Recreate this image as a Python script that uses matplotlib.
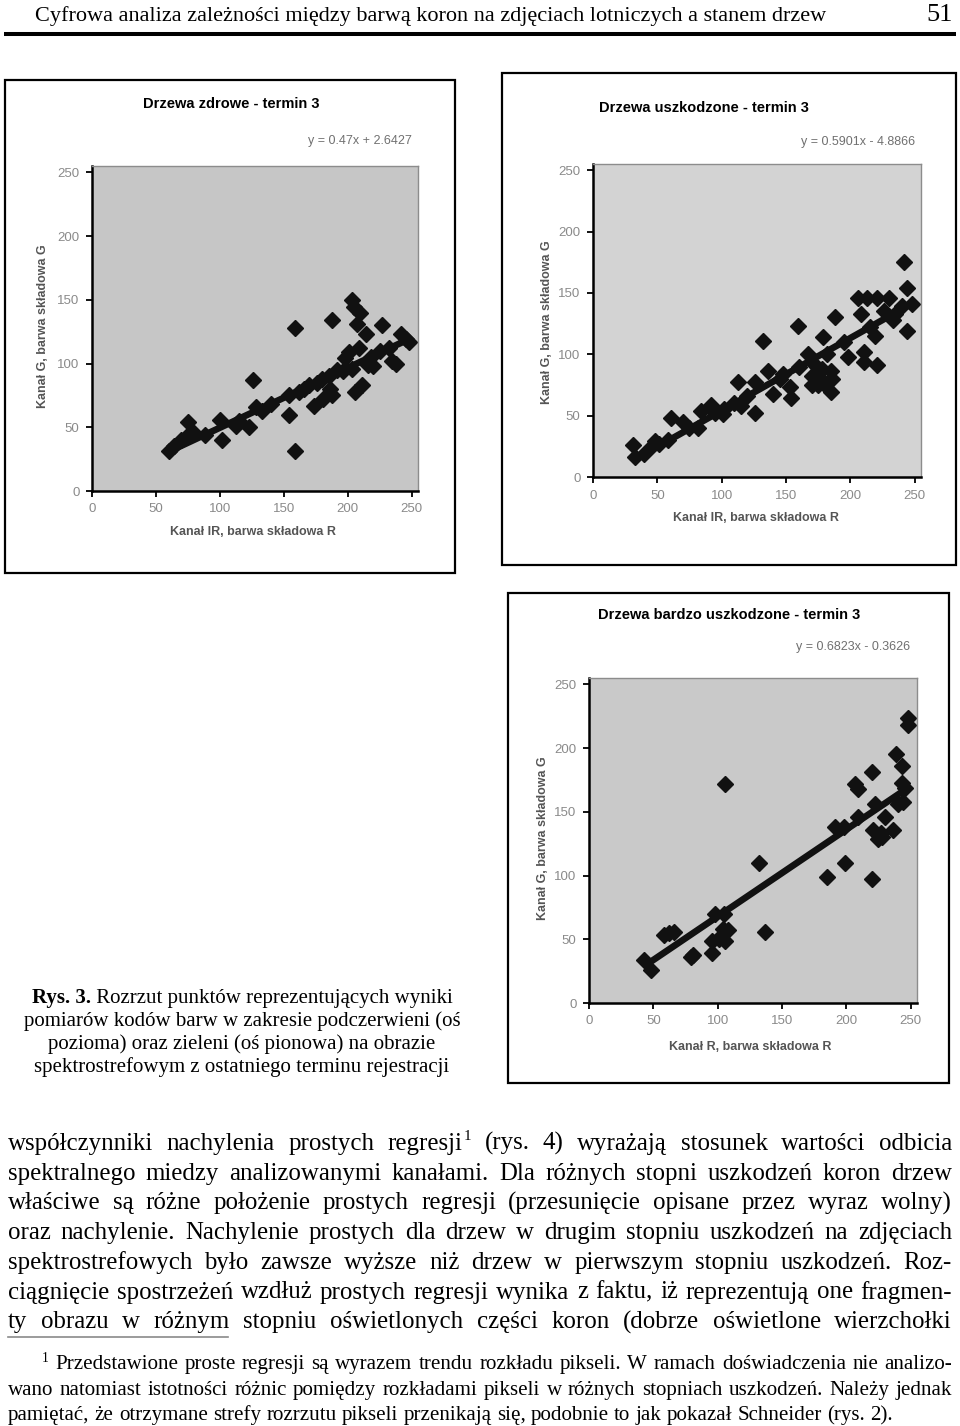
import matplotlib
matplotlib.use('Agg')
import matplotlib.pyplot as plt
from matplotlib.patches import Rectangle
import numpy as np

# --- data ---------------------------------------------------------------
healthy_x = [60, 64, 70, 74, 75, 79, 88, 100, 102, 113, 115, 123, 126, 128, 133,
             140, 154, 154, 159, 159, 162, 166, 170, 174, 176, 180, 181, 185, 186,
             188, 188, 192, 196, 198, 201, 203, 203, 205, 206, 207, 209, 210, 211,
             214, 216, 218, 220, 225, 227, 232, 235, 238, 242, 246, 248]
healthy_y = [31, 35, 40, 43, 54, 46, 44, 56, 40, 51, 55, 50, 87, 66, 63,
             68, 60, 75, 128, 31, 78, 80, 83, 67, 85, 88, 72, 90, 80,
             75, 134, 95, 94, 104, 109, 96, 150, 144, 78, 131, 112, 140, 83,
             123, 99, 105, 98, 110, 130, 112, 102, 100, 123, 119, 117]

damaged_x = [31, 33, 40, 46, 48, 51, 58, 61, 70, 75, 82, 84, 92, 95, 101, 102,
             110, 113, 115, 120, 126, 126, 132, 136, 140, 145, 148, 153, 154, 159,
             160, 167, 170, 170, 172, 175, 175, 178, 179, 180, 182, 185, 185, 186,
             188, 195, 198, 206, 208, 211, 211, 213, 215, 219, 221, 221, 226, 230,
             233, 235, 240, 242, 244, 244, 248]
damaged_y = [26, 16, 19, 25, 29, 27, 30, 48, 45, 40, 40, 54, 59, 52, 51, 55,
             60, 77, 58, 66, 77, 52, 111, 86, 68, 80, 84, 73, 64, 123,
             90, 100, 82, 75, 92, 75, 82, 88, 114, 75, 100, 86, 69, 80,
             130, 110, 98, 146, 133, 102, 94, 146, 122, 115, 91, 146, 135, 146,
             128, 133, 139, 175, 154, 119, 141]

severe_x = [43, 48, 58, 62, 66, 79, 81, 96, 96, 98, 101, 102, 104, 105, 106, 106,
            108, 132, 137, 185, 191, 198, 199, 207, 209, 209, 220, 220, 221, 222,
            225, 227, 228, 230, 236, 239, 240, 243, 243, 244, 246, 248, 248]
severe_y = [34, 26, 53, 55, 56, 36, 38, 39, 49, 70, 50, 52, 58, 70, 49, 172,
            57, 110, 56, 99, 138, 138, 110, 172, 168, 146, 181, 97, 136, 156,
            129, 133, 130, 146, 136, 195, 156, 186, 173, 158, 169, 224, 218]

slopes = [0.47, 0.5901, 0.6823]
intercepts = [2.6427, -4.8866, -0.3626]
equations = ['y = 0.47x + 2.6427', 'y = 0.5901x - 4.8866', 'y = 0.6823x - 0.3626']
titles = ['Drzewa zdrowe - termin 3', 'Drzewa uszkodzone - termin 3',
          'Drzewa bardzo uszkodzone - termin 3']
x_labels = ['Kanał IR, barwa składowa R', 'Kanał IR, barwa składowa R',
            'Kanał R, barwa składowa R']
y_label = 'Kanał G, barwa składowa G'
ticks = [0, 50, 100, 150, 200, 250]

header = 'Cyfrowa analiza zależności między barwą koron na zdjęciach lotniczych a stanem drzew'
page_no = '51'
caption = ['Rozrzut punktów reprezentujących wyniki',
           'pomiarów kodów barw w zakresie podczerwieni (oś',
           'pozioma) oraz zieleni (oś pionowa) na obrazie',
           'spektrostrefowym z ostatniego terminu rejestracji']
body = ['współczynniki nachylenia prostych regresji^1 (rys. 4) wyrażają stosunek wartości odbicia',
        'spektralnego miedzy analizowanymi kanałami. Dla różnych stopni uszkodzeń koron drzew',
        'właściwe są różne położenie prostych regresji (przesunięcie opisane przez wyraz wolny)',
        'oraz nachylenie. Nachylenie prostych dla drzew w drugim stopniu uszkodzeń na zdjęciach',
        'spektrostrefowych było zawsze wyższe niż drzew w pierwszym stopniu uszkodzeń. Roz-',
        'ciągnięcie spostrzeżeń wzdłuż prostych regresji wynika z faktu, iż reprezentują one fragmen-',
        'ty obrazu w różnym stopniu oświetlonych części koron (dobrze oświetlone wierzchołki']
footnote = ['Przedstawione proste regresji są wyrazem trendu rozkładu pikseli. W ramach doświadczenia nie analizo-',
            'wano natomiast istotności różnic pomiędzy rozkładami pikseli w różnych stopniach uszkodzeń. Należy jednak',
            'pamiętać, że otrzymane strefy rozrzutu pikseli przenikają się, podobnie to jak pokazał Schneider (rys. 2).']

W, H = 960, 1426
SANS = 'Liberation Sans'
SERIF = 'Liberation Serif'

fig = plt.figure(figsize=(W / 100, H / 100), dpi=100)
fig.patch.set_facecolor('white')
page = fig.add_axes([0, 0, 1, 1])
page.set_xlim(0, W)
page.set_ylim(H, 0)
page.axis('off')
renderer = fig.canvas.get_renderer()


def width(t):
    return t.get_window_extent(renderer).width


def measure(s, size):
    t = page.text(0, 0, s, fontsize=size, family=SERIF)
    w = width(t)
    t.remove()
    return w


def fit_size(lines, room, size=16):
    # largest size at which every line fits with ordinary word spacing
    worst = max(measure(l.replace('^1', '1'), size) / r for l, r in zip(lines, room))
    return size / worst * 0.985


def justify(line, x0, x1, base, size, full=True):
    parts = []
    for w in line.split(' '):
        sup = None
        if w.endswith('^1'):
            w, sup = w[:-2], '1'
        t = page.text(0, base, w, fontsize=size, family=SERIF, va='baseline')
        s = None
        if sup:
            s = page.text(0, base - size * 0.55, sup, fontsize=size * 0.6,
                          family=SERIF, va='baseline')
        parts.append((t, s))
    widths = [width(t) + (width(s) + 1 if s else 0) for t, s in parts]
    space = measure('a a', size) - measure('aa', size)
    gap = (x1 - x0 - sum(widths)) / (len(parts) - 1) if full else space
    x = x0
    for (t, s), w in zip(parts, widths):
        t.set_x(x)
        if s:
            s.set_x(x + width(t) + 1)
        x += w + gap


def chart(i, box, area, px, py, title_xy, eq_xy, xl_xy, yl_xy, face):
    page.add_patch(Rectangle((box[0], box[1]), box[2] - box[0], box[3] - box[1],
                             facecolor='white', edgecolor='black', lw=1.6))
    l, t, r, b = area
    ax = fig.add_axes([l / W, 1 - b / H, (r - l) / W, (b - t) / H])
    ax.set_facecolor(face)
    ax.plot(px, py, ls='none', marker='D', ms=8, color='#111111', zorder=2)
    xs = np.array([min(px), max(px)])
    ax.plot(xs, slopes[i] * xs + intercepts[i], color='#111111', lw=4.8,
            solid_capstyle='butt', zorder=3)
    ax.set_xlim(0, 255)
    ax.set_ylim(0, 255)
    ax.set_xticks(ticks)
    ax.set_yticks(ticks)
    ax.tick_params(direction='out', length=4, width=1.3, color='black',
                   labelsize=9.5, labelcolor='#8a8a8a', pad=5)
    for lab in ax.get_xticklabels() + ax.get_yticklabels():
        lab.set_family(SANS)
    for side in ('left', 'bottom'):
        ax.spines[side].set_linewidth(1.8)
        ax.spines[side].set_color('black')
    for side in ('top', 'right'):
        ax.spines[side].set_linewidth(1.0)
        ax.spines[side].set_color('#8c8c8c')
    page.text(*title_xy, titles[i], ha='center', va='center', fontsize=10.5,
              fontweight='bold', family=SANS, color='black')
    page.text(*eq_xy, equations[i], ha='right', va='center', fontsize=9,
              family=SANS, color='#707070')
    page.text(*xl_xy, x_labels[i], ha='center', va='center', fontsize=9,
              fontweight='bold', family=SANS, color='#555555')
    page.text(*yl_xy, y_label, ha='center', va='center', fontsize=9,
              fontweight='bold', family=SANS, color='#555555', rotation=90)


chart(0, (5, 80, 455, 573), (92, 166, 418, 491), healthy_x, healthy_y,
      (231, 104), (412, 141), (253, 532), (43, 326), '#c6c6c6')
chart(1, (502, 73, 956, 565), (593, 164, 921, 477), damaged_x, damaged_y,
      (704, 108), (915, 142), (756, 518), (547, 322), '#d3d3d3')
chart(2, (508, 593, 949, 1083), (589, 678, 917, 1003), severe_x, severe_y,
      (729, 615), (910, 647), (750, 1047), (543, 838), '#c9c9c9')

# page header
page.text(35, 21, header, fontsize=16, family=SERIF, va='baseline')
page.text(953, 21, page_no, fontsize=19, family=SERIF, va='baseline', ha='right')
page.plot([4, 956], [34, 34], color='black', lw=2.9, solid_capstyle='butt')

# figure caption, centred lines
cap_base = [1003, 1026, 1049, 1072]
cx = 242
lead = page.text(0, cap_base[0], 'Rys. 3.', fontsize=15, family=SERIF,
                 fontweight='bold', va='baseline')
rest = page.text(0, cap_base[0], ' ' + caption[0], fontsize=15, family=SERIF,
                 va='baseline')
total = width(lead) + width(rest)
lead.set_x(cx - total / 2)
rest.set_x(cx - total / 2 + width(lead))
for line, yb in zip(caption[1:], cap_base[1:]):
    page.text(cx, yb, line, fontsize=15, family=SERIF, va='baseline', ha='center')

# body text, justified
body_size = fit_size(body, [944] * len(body))
for k, line in enumerate(body):
    justify(line, 8, 952, 1150 + k * 29.7, body_size)

page.plot([8, 228], [1337, 1337], color='#8a8a8a', lw=1.2)

foot_size = fit_size(footnote[:2], [897, 944])
page.text(42, 1362, '1', fontsize=foot_size * 0.65, family=SERIF, va='baseline')
justify(footnote[0], 55, 952, 1369, foot_size)
justify(footnote[1], 8, 952, 1395, foot_size)
justify(footnote[2], 8, 952, 1420, foot_size, full=False)

fig.savefig('out.png', dpi=100, facecolor='white')
